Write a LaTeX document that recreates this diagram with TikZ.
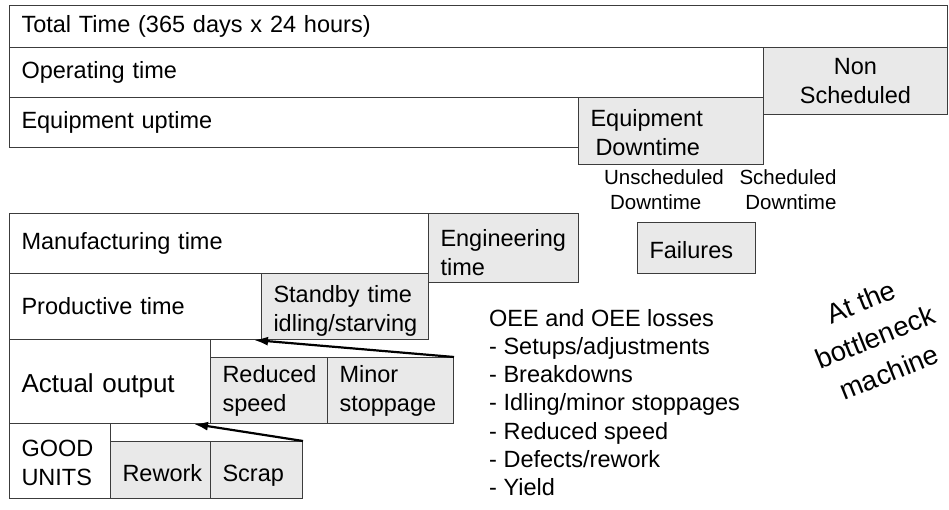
\documentclass[tikz,border=0pt]{standalone}
\usepackage{fontspec}
\setmainfont{Liberation Sans}
\usetikzlibrary{arrows.meta,positioning}
\definecolor{lossgray}{RGB}{233,233,233}
\definecolor{edgegray}{RGB}{60,60,60}
\newcommand{\boxfont}{\fontsize{23.5}{29}\selectfont}
\newcommand{\smallfont}{\fontsize{20.5}{25}\selectfont}
\tikzset{
  timebox/.style={draw=edgegray, line width=1pt, rectangle, anchor=north west,
    inner xsep=12pt, inner ysep=0pt, align=left, font=\boxfont},
  lossbox/.style={timebox, fill=lossgray},
  lowline/.style={text height=22pt, text depth=0pt},
  lossarrow/.style={-{Latex[length=14pt,width=9pt]}, line width=2.2pt, black},
}
\begin{document}
\begin{tikzpicture}[x=1pt,y=-1pt]
    \useasboundingbox (0,0) rectangle (949,510);
    % upper block: calendar time
    \node[timebox, minimum width=938pt, minimum height=42pt, text width=914pt] (total) at (9,5) {Total Time (365 days x 24 hours)};
    \node[timebox, minimum width=754pt, minimum height=50pt, text width=730pt] (operating) at (9,47) {Operating time};
    \node[lossbox, minimum width=184pt, minimum height=67pt, text width=160pt, align=center] (nonsched) at (763,47) {Non\\Scheduled};
    \node[timebox, minimum width=569pt, minimum height=50pt, text width=545pt] (uptime) at (9,97) {Equipment uptime};
    \node[lossbox, minimum width=185pt, minimum height=67pt, text width=161pt] (downtime) at (578,97) {\rule{0pt}{20pt}Equipment\\\hspace*{5pt}Downtime};
    \node[font=\smallfont, align=left, inner sep=0pt] (unsched) at (664,190) {Unscheduled\\\hspace*{6pt}Downtime};
    \node[font=\smallfont, align=right, inner sep=0pt] (sched) at (788,190) {Scheduled\\Downtime};
    \node[lossbox, minimum width=118pt, minimum height=51pt, text width=94pt, lowline] (failures) at (637,222) {Failures};
    % lower block: manufacturing time
    \node[timebox, minimum width=419pt, minimum height=60pt, text width=395pt] (manuf) at (9,213) {Manufacturing time};
    \node[lossbox, minimum width=150pt, minimum height=69pt, text width=126pt] (engineering) at (428,213) {\rule{0pt}{27pt}Engineering\\time};
    \node[timebox, minimum width=252pt, minimum height=66pt, text width=228pt] (productive) at (9,273) {Productive time};
    \node[lossbox, minimum width=167pt, minimum height=66pt, text width=143pt] (standby) at (261,273) {\rule{0pt}{26pt}Standby time\\idling/starving};
    \node[timebox, minimum width=201pt, minimum height=84pt, text width=177pt, font=\fontsize{26}{30}\selectfont, lowline] (actual) at (9,339) {Actual output};
    \node[lossbox, minimum width=117pt, minimum height=66pt, text width=93pt] (reduced) at (210,357) {Reduced\\speed};
    \node[lossbox, minimum width=126pt, minimum height=66pt, text width=102pt] (minor) at (327,357) {Minor\\stoppage};
    \node[timebox, minimum width=101pt, minimum height=75pt, text width=77pt] (good) at (9,423) {\rule{0pt}{20pt}GOOD\\UNITS};
    \node[lossbox, minimum width=100pt, minimum height=57pt, text width=76pt, lowline] (rework) at (110,441) {Rework};
    \node[lossbox, minimum width=92pt, minimum height=57pt, text width=68pt, lowline] (scrap) at (210,441) {Scrap};
    % losses point back to the time they are taken from
    \coordinate (prodtip) at ([xshift=-8pt]productive.south east);
    \coordinate (actualtip) at ([xshift=-17pt]actual.south east);
    \draw[lossarrow] (minor.north east) -- (prodtip);
    \draw[lossarrow] (scrap.north east) -- (actualtip);
    % list of losses
    \node[anchor=north west, align=left, inner sep=0pt, font=\fontsize{23.5}{28.2}\selectfont] (oee) at (489,309) {OEE and OEE losses\\- Setups/adjustments\\- Breakdowns\\- Idling/minor stoppages\\- Reduced speed\\- Defects/rework\\- Yield};
    \node[rotate=22, align=center, inner sep=0pt, font=\fontsize{27.5}{38}\selectfont] (bottleneck) at (875,337) {At the\\bottleneck\\machine};
\end{tikzpicture}
\end{document}
